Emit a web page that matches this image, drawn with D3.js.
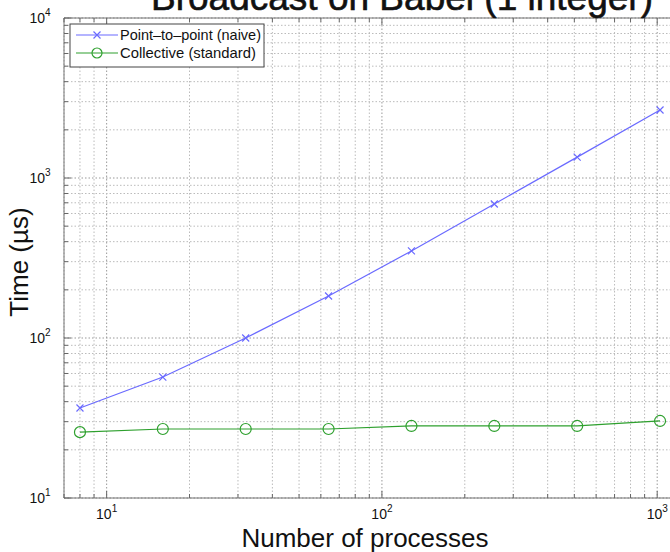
<!DOCTYPE html>
<html><head><meta charset="utf-8">
<script src="https://cdn.jsdelivr.net/npm/d3@7/dist/d3.min.js"></script>
<style>body{margin:0;background:#fff;} svg{display:block;font-family:"Liberation Sans",Arial,sans-serif;}</style>
</head><body><svg id="c" width="670" height="552"></svg>
<script>
const processes = [8, 16, 32, 64, 128, 256, 512, 1024];
const pointToPoint = [36.5, 57, 100, 183, 350, 688, 1350, 2660];
const collective = [25.8, 27.0, 27.0, 27.0, 28.2, 28.2, 28.2, 30.3];
const seriesNames = ["Point\u2013to\u2013point (naive)", "Collective (standard)"];
const xTickValues = [10, 100, 1000];
const yTickValues = [10, 100, 1000, 10000];
const titleText = "Broadcast on Babel (1 integer)";
const xLabel = "Number of processes";
const yLabel = "Time (\u00b5s)";

const svg = d3.select("#c");
const L = 64, R = 679, T = 18, B = 498;
const x = d3.scaleLog().domain([7, 1200]).range([L, R]);
const y = d3.scaleLog().domain([10, 10000]).range([B, T]);

const xMinor = [], yMinor = [];
for (let d = 1; d <= 1000; d *= 10) for (let k = 1; k <= 9; k++) { const v = d * k; if (v >= 7 && v <= 1200) xMinor.push(v); }
for (let d = 10; d <= 10000; d *= 10) for (let k = 1; k <= 9; k++) { const v = d * k; if (v >= 10 && v <= 10000) yMinor.push(v); }

const g = svg.append("g");
g.selectAll(".vg").data(xMinor).join("line")
  .attr("x1", d => x(d)).attr("x2", d => x(d)).attr("y1", T).attr("y2", B)
  .attr("stroke", d => xTickValues.includes(d) ? "#999" : "#bbb")
  .attr("stroke-width", 1).attr("stroke-dasharray", "1.5,2");
g.selectAll(".hg").data(yMinor).join("line")
  .attr("x1", L).attr("x2", R).attr("y1", d => y(d)).attr("y2", d => y(d))
  .attr("stroke", d => yTickValues.includes(d) ? "#999" : "#bbb")
  .attr("stroke-width", 1).attr("stroke-dasharray", "1.5,2");

g.append("line").attr("x1", L).attr("x2", R).attr("y1", T).attr("y2", T).attr("stroke", "#777");
g.append("line").attr("x1", L).attr("x2", R).attr("y1", B).attr("y2", B).attr("stroke", "#777");
g.append("line").attr("x1", L).attr("x2", L).attr("y1", T).attr("y2", B).attr("stroke", "#777");

const tickLen = d => (xTickValues.includes(d) ? 7 : 4);
g.selectAll(".xtb").data(xMinor).join("line")
  .attr("x1", d => x(d)).attr("x2", d => x(d)).attr("y1", B).attr("y2", d => B - tickLen(d)).attr("stroke", "#666");
g.selectAll(".xtt").data(xMinor).join("line")
  .attr("x1", d => x(d)).attr("x2", d => x(d)).attr("y1", T).attr("y2", d => T + tickLen(d)).attr("stroke", "#666");
const ytl = d => (yTickValues.includes(d) ? 7 : 4);
g.selectAll(".ytl").data(yMinor).join("line")
  .attr("x1", L).attr("x2", d => L + ytl(d)).attr("y1", d => y(d)).attr("y2", d => y(d)).attr("stroke", "#666");

const xl = g.selectAll(".xl").data(xTickValues).join("text")
  .attr("x", d => x(d)).attr("y", B + 21).attr("text-anchor", "middle")
  .attr("font-size", 14).attr("fill", "#111");
xl.append("tspan").text("10");
xl.append("tspan").attr("dy", -7).attr("font-size", 10).text(d => Math.round(Math.log10(d)));
const yl = g.selectAll(".yl").data(yTickValues).join("text")
  .attr("x", L - 24).attr("y", d => y(d) + 5).attr("text-anchor", "middle")
  .attr("font-size", 14).attr("fill", "#111");
yl.append("tspan").text("10");
yl.append("tspan").attr("dy", -7).attr("font-size", 10).text(d => Math.round(Math.log10(d)));

const blue = "#6a6aff", green = "#2ea02e";
const line = d3.line().x(d => x(d[0])).y(d => y(d[1]));
const p2p = processes.map((p, i) => [p, pointToPoint[i]]);
const col = processes.map((p, i) => [p, collective[i]]);
g.append("path").datum(p2p).attr("d", line).attr("fill", "none").attr("stroke", blue).attr("stroke-width", 1.2);
g.append("path").datum(col).attr("d", line).attr("fill", "none").attr("stroke", green).attr("stroke-width", 1.2);
const xs = 3.5;
g.selectAll(".xm").data(p2p).join("path")
  .attr("d", d => { const cx = x(d[0]), cy = y(d[1]); return `M${cx-xs},${cy-xs}L${cx+xs},${cy+xs}M${cx-xs},${cy+xs}L${cx+xs},${cy-xs}`; })
  .attr("stroke", blue).attr("stroke-width", 1.2);
g.selectAll(".cm").data(col).join("circle")
  .attr("cx", d => x(d[0])).attr("cy", d => y(d[1])).attr("r", 5.5)
  .attr("fill", "none").attr("stroke", green).attr("stroke-width", 1.2);

const lg = g.append("g");
lg.append("rect").attr("x", 70).attr("y", 24).attr("width", 194).attr("height", 43)
  .attr("fill", "#fff").attr("stroke", "#444").attr("stroke-width", 1);
const legY = [35, 53];
const legW = [141, 136];
[blue, green].forEach((c, i) => {
  lg.append("line").attr("x1", 76).attr("x2", 118).attr("y1", legY[i]).attr("y2", legY[i]).attr("stroke", c).attr("stroke-width", 1.2);
  if (i === 0) {
    const cx = 97, cy = legY[i];
    lg.append("path").attr("d", `M${cx-xs},${cy-xs}L${cx+xs},${cy+xs}M${cx-xs},${cy+xs}L${cx+xs},${cy-xs}`).attr("stroke", c).attr("stroke-width", 1.2);
  } else {
    lg.append("circle").attr("cx", 97).attr("cy", legY[i]).attr("r", 5).attr("fill", "none").attr("stroke", c).attr("stroke-width", 1.2);
  }
  lg.append("text").attr("x", 120).attr("y", legY[i] + 5).attr("font-size", 14.5)
    .attr("textLength", legW[i]).attr("lengthAdjust", "spacingAndGlyphs")
    .attr("fill", "#111").text(seriesNames[i]);
});

svg.append("text").attr("x", 402).attr("y", 10).attr("text-anchor", "middle").attr("font-size", 36)
  .attr("stroke", "#111").attr("stroke-width", 0.6)
  .attr("textLength", 502).attr("lengthAdjust", "spacingAndGlyphs").attr("fill", "#111").text(titleText);
svg.append("text").attr("x", 365).attr("y", 547).attr("text-anchor", "middle").attr("font-size", 26).attr("fill", "#111").text(xLabel);
svg.append("text").attr("transform", "translate(28,262) rotate(-90)").attr("text-anchor", "middle").attr("font-size", 26).attr("fill", "#111").text(yLabel);
</script></body></html>
